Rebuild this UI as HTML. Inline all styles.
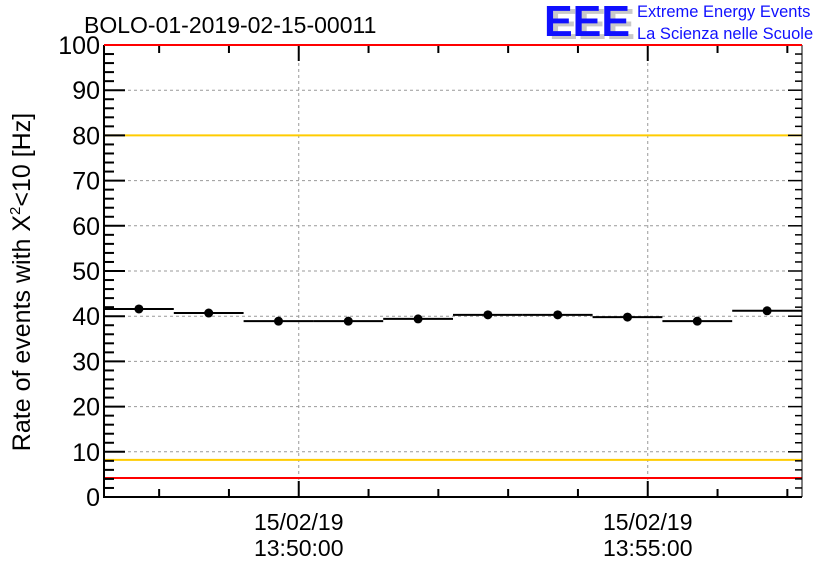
<!DOCTYPE html>
<html><head><meta charset="utf-8"><style>
body{margin:0;background:#fff;}
svg{display:block;font-family:"Liberation Sans",sans-serif;}
</style></head><body>
<svg id="chart" width="836" height="572" viewBox="0 0 836 572">
<text x="84" y="33" font-size="23" fill="#000">BOLO-01-2019-02-15-00011</text>
<g>
<text x="549" y="39" font-size="44" font-weight="bold" fill="#c8c8c8" textLength="86" lengthAdjust="spacingAndGlyphs">EEE</text>
<text x="544" y="36" font-size="44" font-weight="bold" fill="#1010ff" textLength="86" lengthAdjust="spacingAndGlyphs">EEE</text>
<text x="637" y="17" font-size="16.5" fill="#1010ff">Extreme Energy Events</text>
<text x="637" y="39" font-size="16.5" fill="#1010ff">La Scienza nelle Scuole</text>
</g>
<text transform="translate(30,282) rotate(-90)" text-anchor="middle" font-size="25" fill="#000">Rate of events with X<tspan dy="-10" font-size="15">2</tspan><tspan dy="10">&lt;10 [Hz]</tspan></text>
<g id="grid"></g><g id="ref"></g><g id="axes"></g><g id="marks"></g>
</svg>
<script>
const yTicks=[0,10,20,30,40,50,60,70,80,90,100];
const xMajor=[0,5];
const xLabelsDate=["15/02/19","15/02/19"];
const xLabelsTime=["13:50:00","13:55:00"];
const binCenters=[-2.29,-1.29,-0.29,0.71,1.71,2.71,3.71,4.71,5.71,6.71];
const rates=[41.6,40.7,38.9,38.9,39.4,40.3,40.3,39.8,38.9,41.2];
const refRed=[100,4.2];
const refYellow=[80,8.2];
const X0=104,X1=802,Y0=497,Y1=45,XMIN=-2.79,XMAX=7.21;
const sx=v=>X0+(v-XMIN)/(XMAX-XMIN)*(X1-X0);
const sy=v=>Y0-(v/100)*(Y0-Y1);
const NS="http://www.w3.org/2000/svg";
function mk(p,t,a){const e=document.createElementNS(NS,t);for(const k in a)e.setAttribute(k,a[k]);p.appendChild(e);return e;}
const grid=document.getElementById('grid'),ref=document.getElementById('ref'),axes=document.getElementById('axes'),marks=document.getElementById('marks');
yTicks.forEach(v=>{if(v>0&&v<100){const l=mk(grid,'line',{x1:X0,x2:X1,y1:sy(v),y2:sy(v),stroke:'#999','stroke-dasharray':'3,3','stroke-width':1});

}});
xMajor.forEach(v=>{const l=mk(grid,'line',{x1:sx(v),x2:sx(v),y1:Y1,y2:Y0,stroke:'#999','stroke-dasharray':'3,3','stroke-width':1});

});
refYellow.forEach(v=>{const l=mk(ref,'line',{x1:X0,x2:X1,y1:sy(v),y2:sy(v),stroke:'#ffcc00','stroke-width':2});

});
refRed.forEach(v=>{const l=mk(ref,'line',{x1:X0,x2:X1,y1:sy(v),y2:sy(v),stroke:'#ff0000','stroke-width':2});

});
const f=mk(axes,'path',{d:`M${X0},${Y1}V${Y0}H${X1}`,stroke:'#000','stroke-width':2,fill:'none'});


mk(axes,'line',{x1:X1,x2:X1,y1:Y1,y2:Y0,stroke:'#000','stroke-width':1});
for(let v=0;v<=100;v+=2){const maj=v%10===0,len=maj?21:10;
mk(axes,'line',{x1:X0,x2:X0+len,y1:sy(v),y2:sy(v),stroke:'#000','stroke-width':2});
mk(axes,'line',{x1:X1,x2:X1-(maj?14:7),y1:sy(v),y2:sy(v),stroke:'#000','stroke-width':1.5});}
yTicks.forEach(v=>{const t=mk(axes,'text',{x:X0-4,y:sy(v)+9,'text-anchor':'end','font-size':25,fill:'#000'});t.textContent=v;

});
for(let m=-2;m<=7;m++){const maj=m%5===0,len=maj?16:8;
mk(axes,'line',{x1:sx(m),x2:sx(m),y1:Y0,y2:Y0-len,stroke:'#000','stroke-width':2});
mk(axes,'line',{x1:sx(m),x2:sx(m),y1:Y1,y2:Y1+len,stroke:'#000','stroke-width':2});}
xMajor.forEach((v,i)=>{const t=mk(axes,'text',{x:sx(v),y:530,'text-anchor':'middle','font-size':23,fill:'#000'});t.textContent=xLabelsDate[i];


const t2=mk(axes,'text',{x:sx(v),y:556,'text-anchor':'middle','font-size':23,fill:'#000'});t2.textContent=xLabelsTime[i];

});
mk(axes,'line',{x1:X0,x2:X1,y1:sy(100),y2:sy(100),stroke:'#ff0000','stroke-width':2});
binCenters.forEach((c,i)=>{const y=sy(rates[i]);
const l=mk(marks,'line',{x1:sx(c-0.5),x2:sx(c+0.5),y1:y,y2:y,stroke:'#000','stroke-width':2});


const p=mk(marks,'circle',{cx:sx(c),cy:y,r:4.5,fill:'#000'});

});
</script>
</body></html>
